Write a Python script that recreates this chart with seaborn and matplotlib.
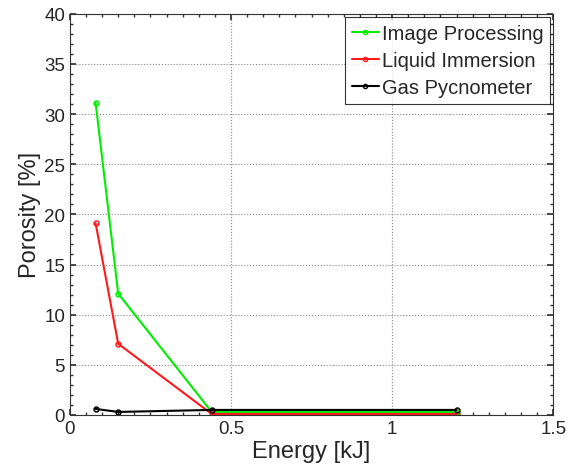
import seaborn as sns
import matplotlib.pyplot as plt
import pandas as pd
from matplotlib.ticker import AutoMinorLocator

energy = [0.08, 0.15, 0.44, 1.2]
image_proc = [31.1, 12.1, 0.3, 0.3]
liquid_imm = [19.1, 7.1, 0.1, 0.1]
gas_pyc = [0.6, 0.3, 0.5, 0.5]
methods = ['Image Processing', 'Liquid Immersion', 'Gas Pycnometer']
colors = ['#00ee00', '#ff1a1a', '#000000']

rows = []
for m, vals in zip(methods, [image_proc, liquid_imm, gas_pyc]):
    for e, v in zip(energy, vals):
        rows.append({'Energy': e, 'Porosity': v, 'Method': m})
df = pd.DataFrame(rows)

sns.set_theme(style='ticks')
plt.rcParams['font.family'] = ['Liberation Sans', 'DejaVu Sans']

fig = plt.figure(figsize=(5.68, 4.77), dpi=100)
ax = fig.add_axes([0.123, 0.128, 0.851, 0.841])

sns.lineplot(data=df, x='Energy', y='Porosity', hue='Method', palette=colors,
             marker='o', markersize=3.5, markerfacecolor='none', markeredgewidth=1.1,
             lw=1.5, ax=ax, legend=False)
for line, c in zip(ax.lines, colors):
    line.set_markeredgecolor(c)

handles = [plt.Line2D([], [], color=c, lw=1.5, marker='o', markersize=3,
                      markerfacecolor='none', markeredgecolor=c) for c in colors]
leg = ax.legend(handles, methods, loc='upper right', fontsize=14.5, frameon=True,
                fancybox=False, edgecolor='black', handlelength=1.3,
                handletextpad=0.15, borderpad=0.35, labelspacing=0.4,
                borderaxespad=0.15)
leg.get_frame().set_linewidth(0.8)

ax.set_xlim(0, 1.5)
ax.set_ylim(0, 40)
ax.set_xticks([0, 0.5, 1, 1.5])
ax.set_xticklabels(['0', '0.5', '1', '1.5'])
ax.set_yticks(range(0, 41, 5))
ax.xaxis.set_minor_locator(AutoMinorLocator(10))
ax.yaxis.set_minor_locator(AutoMinorLocator(5))
ax.tick_params(which='both', direction='in', top=True, right=True, labelsize=13.5,
               color='#333333')
ax.tick_params(which='major', length=4)
ax.tick_params(which='minor', length=2)
ax.grid(True, which='major', ls=':', color='#888888', lw=0.8)
for sp in ax.spines.values():
    sp.set_linewidth(0.8)
    sp.set_color('#333333')
ax.set_xlabel('Energy [kJ]', fontsize=17, labelpad=2)
ax.set_ylabel('Porosity [%]', fontsize=17, labelpad=2)

fig.savefig('out.png', dpi=100)
